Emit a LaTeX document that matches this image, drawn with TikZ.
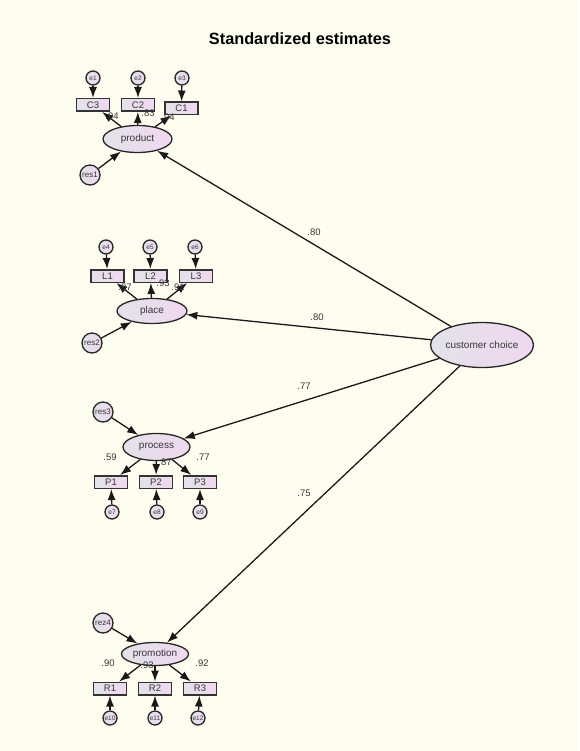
\documentclass[tikz,border=0pt]{standalone}
\usepackage{fontspec}
\setmainfont{Liberation Sans}
\usetikzlibrary{shapes.geometric,arrows.meta}
\definecolor{bgc}{RGB}{254,254,240}
\definecolor{lg}{RGB}{226,226,232}
\definecolor{lp}{RGB}{240,216,240}
\definecolor{txt}{RGB}{55,55,55}
\tikzset{
  lat/.style={ellipse, draw=black!85, line width=1.3pt, left color=lg, right color=lp, inner sep=0pt, font=\fontsize{10}{11}\selectfont, text=txt},
  obs/.style={rectangle, draw=black!80, line width=1.5pt, left color=lg, right color=lp, minimum width=33pt, minimum height=12.5pt, inner sep=0pt, font=\fontsize{9.5}{10}\selectfont, text=txt},
  errc/.style={circle, draw=black!85, line width=1.3pt, left color=lg, right color=lp, minimum size=14pt, inner sep=0pt, font=\fontsize{6.5}{7}\selectfont, text=txt},
  resc/.style={circle, draw=black!85, line width=1.3pt, left color=lg, right color=lp, minimum size=20pt, inner sep=0pt, font=\fontsize{8}{9}\selectfont, text=txt},
  arr/.style={-{Latex[length=11pt,width=8pt]}, line width=1.3pt, black!90},
  lab/.style={font=\fontsize{9.5}{10}\selectfont, text=txt, inner sep=0pt}
}
\begin{document}
\begin{tikzpicture}[x=1pt,y=-1pt]
\fill[bgc] (0,0) rectangle (579,751);
\useasboundingbox (0,0) rectangle (579,751);
\node[font=\bfseries\fontsize{16.3}{18}\selectfont] (title) at (300,39) {Standardized estimates};

% product
\node[lat, minimum width=69pt, minimum height=27pt] (product) at (137.5,139) {product};
\node[obs] (C3) at (93,105) {C3};
\node[obs] (C2) at (138,105) {C2};
\node[obs] (C1) at (181.5,108.5) {C1};
\node[errc] (e1) at (93,78) {e1};
\node[errc] (e2) at (138,78) {e2};
\node[errc] (e3) at (182,78) {e3};
\node[resc] (res1) at (90,175) {res1};
\draw[arr] (product) -- (C3);
\draw[arr] (product) -- (C2);
\draw[arr] (product) -- (C1);
\draw[arr] (e1) -- (C3);
\draw[arr] (e2) -- (C2);
\draw[arr] (e3) -- (C1);
\draw[arr] (res1) -- (product);
\node[lab] (l1) at (112,116) {.94};
\node[lab] (l2) at (148,113) {.83};
\node[lab] (l3) at (168,117) {.94};

% place
\node[lat, minimum width=70pt, minimum height=25pt] (place) at (152,311) {place};
\node[obs] (L1) at (107.5,276) {L1};
\node[obs] (L2) at (150.5,276) {L2};
\node[obs] (L3) at (196,276) {L3};
\node[errc] (e4) at (106,247) {e4};
\node[errc] (e5) at (150,247) {e5};
\node[errc] (e6) at (195,247) {e6};
\node[resc] (res2) at (92,343) {res2};
\draw[arr] (place) -- (L1);
\draw[arr] (place) -- (L2);
\draw[arr] (place) -- (L3);
\draw[arr] (e4) -- (L1);
\draw[arr] (e5) -- (L2);
\draw[arr] (e6) -- (L3);
\draw[arr] (res2) -- (place);
\node[lab] (l4) at (125,287) {.97};
\node[lab] (l5) at (163,283) {.93};
\node[lab] (l6) at (178,287) {.91};

% process
\node[lat, minimum width=67pt, minimum height=27pt] (process) at (156.5,447) {process};
\node[obs] (P1) at (111,482) {P1};
\node[obs] (P2) at (156,482) {P2};
\node[obs] (P3) at (200,482) {P3};
\node[errc] (e7) at (112,512) {e7};
\node[errc] (e8) at (157,512) {e8};
\node[errc] (e9) at (200,512) {e9};
\node[resc] (res3) at (103,412) {res3};
\draw[arr] (process) -- (P1);
\draw[arr] (process) -- (P2);
\draw[arr] (process) -- (P3);
\draw[arr] (e7) -- (P1);
\draw[arr] (e8) -- (P2);
\draw[arr] (e9) -- (P3);
\draw[arr] (res3) -- (process);
\node[lab] (l7) at (110,457) {.59};
\node[lab] (l8) at (165,462) {.87};
\node[lab] (l9) at (203,457) {.77};

% promotion
\node[lat, minimum width=67pt, minimum height=23pt] (promotion) at (155,654) {promotion};
\node[obs] (R1) at (110,688.5) {R1};
\node[obs] (R2) at (155,688.5) {R2};
\node[obs] (R3) at (200,688.5) {R3};
\node[errc] (e10) at (110,718) {e10};
\node[errc] (e11) at (155,718) {e11};
\node[errc] (e12) at (198,718) {e12};
\node[resc] (rez4) at (103,623) {rez4};
\draw[arr] (promotion) -- (R1);
\draw[arr] (promotion) -- (R2);
\draw[arr] (promotion) -- (R3);
\draw[arr] (e10) -- (R1);
\draw[arr] (e11) -- (R2);
\draw[arr] (e12) -- (R3);
\draw[arr] (rez4) -- (promotion);
\node[lab] (l10) at (108,663) {.90};
\node[lab] (l11) at (147,665) {.93};
\node[lab] (l12) at (202,663) {.92};

% customer choice
\node[lat, minimum width=97pt, minimum height=45pt] (cc) at (482,345) {customer choice};
\draw[arr] (cc) -- (product);
\draw[arr] (cc) -- (place);
\draw[arr] (cc) -- (process);
\draw[arr] (cc) -- (promotion);
\node[lab] (s1) at (314,232) {.80};
\node[lab] (s2) at (317,317) {.80};
\node[lab] (s3) at (304,386) {.77};
\node[lab] (s4) at (304,493) {.75};
\end{tikzpicture}
\end{document}
